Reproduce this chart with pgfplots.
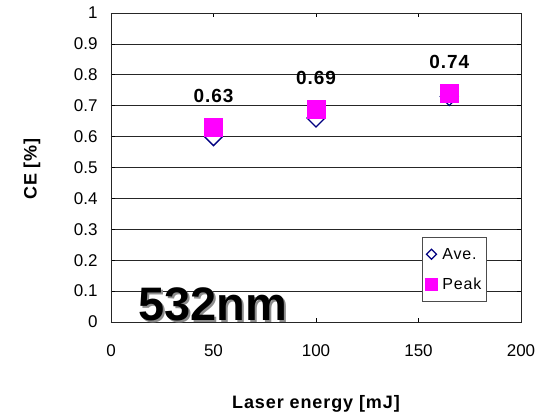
\documentclass[border=0pt]{standalone}
\usepackage{pgfplots}
\pgfplotsset{compat=1.18}
\usepackage{fontspec}
\setmainfont{Liberation Sans}
\newfontfamily\trackfont{Liberation Sans}[LetterSpace=5]
\definecolor{avecol}{HTML}{000080}
\definecolor{peakcol}{HTML}{FF00FF}

\begin{document}
\begin{tikzpicture}
\useasboundingbox (-111pt,-91pt) rectangle (440pt,322pt);
\begin{axis}[
  at={(0pt,0pt)}, anchor=south west,
  scale only axis, width=410pt, height=309pt,
  xmin=0, xmax=200, ymin=0, ymax=1,
  xtick={0,50,100,150,200},
  ytick={0,0.1,0.2,0.3,0.4,0.5,0.6,0.7,0.8,0.9,1},
  yticklabels={0,0.1,0.2,0.3,0.4,0.5,0.6,0.7,0.8,0.9,1},
  ymajorgrids,
  major grid style={black!85, line width=0.7pt},
  axis line style={black!85, line width=0.8pt},
  tick align=inside, major tick length=4pt,
  tick style={black, line width=0.7pt},
  /pgf/number format/assume math mode=true,
  ticklabel style={font=\fontsize{17}{17}\selectfont},
  yticklabel style={xshift=-10pt},
  xticklabel style={yshift=-19pt},
  xlabel={\trackfont\bfseries Laser energy [mJ]},
  ylabel={\trackfont\bfseries CE [\%]},
  xlabel style={font=\fontsize{18}{18}\selectfont, at={(axis description cs:0.5,0)}, anchor=base, yshift=-86pt},
  ylabel style={font=\fontsize{18}{18}\selectfont, at={(axis description cs:0,0.495)}, anchor=center, yshift=79pt},
  legend style={at={(0.759,0.065)}, anchor=south west, draw=black!70, line width=0.6pt,
    font=\trackfont\fontsize{16}{16}\selectfont, inner xsep=3pt, inner ysep=9pt,
    row sep=13pt, column sep=3pt, fill=white},
  legend cell align=left,
  clip=false,
]
% averaged values
\addplot[only marks, forget plot, mark=diamond, mark size=9pt,
  mark options={draw=avecol, fill=white, line width=1.3pt, xscale=1.33}]
  coordinates {(50,0.60) (100,0.66) (165,0.73)};
% peak values with their numbers printed above
\addplot[only marks, forget plot, mark=square*, mark size=9pt,
  mark options={draw=peakcol, fill=peakcol},
  point meta=y,
  nodes near coords={\pgfmathprintnumber[fixed,precision=2,fixed zerofill]{\pgfplotspointmeta}},
  every node near coord/.append style={anchor=base, yshift=24.5pt,
    font=\trackfont\fontsize{19}{19}\selectfont\bfseries, text=black}]
  coordinates {(50,0.63) (100,0.69) (165,0.74)};
\addlegendimage{only marks, mark=diamond, mark size=5pt, mark options={draw=avecol, fill=white, line width=1.3pt, xscale=1.33}}
\addlegendentry{Ave.}
\addlegendimage{only marks, mark=square*, mark size=6pt, mark options={draw=peakcol, fill=peakcol}}
\addlegendentry{Peak}
\node[anchor=base, text=black!45, font=\fontsize{47}{47}\selectfont\bfseries, xshift=2.5pt, yshift=-2.5pt]
  at (axis cs:49.5,0.006) {532nm};
\node[anchor=base, text=black, font=\fontsize{47}{47}\selectfont\bfseries]
  at (axis cs:49.5,0.006) {532nm};
\end{axis}
\end{tikzpicture}
\end{document}
